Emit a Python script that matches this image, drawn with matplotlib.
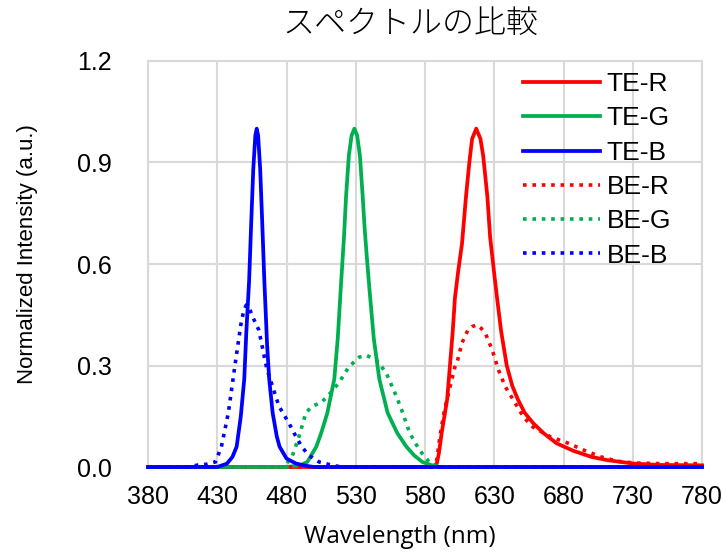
import matplotlib.pyplot as plt

# Spectra (wavelength nm, normalized intensity)
te_r_x = [380, 580, 586, 588.5, 590, 592, 594, 596, 598, 600, 601.6, 604, 606.7, 609.6, 612, 614, 617, 620, 622,
          625, 627, 630, 632, 635, 639, 643, 647, 652, 658, 665.6, 675, 687, 700, 712, 731, 750, 780]
te_r_y = [0, 0, 0.003, 0.01, 0.04, 0.1, 0.15, 0.2, 0.3, 0.4, 0.5, 0.58, 0.66, 0.8, 0.9, 0.97, 1.0, 0.97, 0.92,
          0.8, 0.68, 0.57, 0.5, 0.4, 0.3, 0.24, 0.2, 0.16, 0.13, 0.1, 0.07, 0.048, 0.03, 0.02, 0.01, 0.006, 0.005]

te_g_x = [380, 480, 490, 495, 501.5, 505, 509.5, 514.5, 517, 519.5, 521.5, 523, 525, 527, 529, 531, 533,
          535, 536.5, 538, 540, 543, 547, 553, 560, 566.6, 572, 578, 585, 590, 780]
te_g_y = [0, 0, 0.005, 0.015, 0.06, 0.1, 0.16, 0.26, 0.38, 0.55, 0.68, 0.8, 0.92, 0.98, 1.0, 0.98, 0.92,
          0.8, 0.7, 0.62, 0.52, 0.38, 0.26, 0.16, 0.1, 0.06, 0.035, 0.015, 0.005, 0, 0]

te_b_x = [380, 430, 437, 441, 444, 447, 449.5, 451, 453, 454.5, 456, 457.5, 458.5, 459.5, 461, 462.5, 464, 466,
          467.5, 470, 473, 475, 480, 487, 495, 500, 780]
te_b_y = [0, 0, 0.01, 0.03, 0.06, 0.15, 0.26, 0.4, 0.55, 0.72, 0.88, 0.98, 1.0, 0.98, 0.88, 0.72, 0.55, 0.36,
          0.26, 0.16, 0.09, 0.06, 0.025, 0.01, 0.003, 0, 0]

be_r_x = [380, 585, 588.5, 590.7, 594, 598, 601.6, 603, 606.7, 611, 614, 617.6, 620.5, 623.5, 628.5, 633,
          638, 643.8, 651, 658, 670.7, 683, 694.6, 707, 719, 731, 750, 780]
be_r_y = [0, 0, 0.02, 0.089, 0.168, 0.236, 0.296, 0.307, 0.367, 0.405, 0.415, 0.42, 0.41, 0.396, 0.346, 0.287,
          0.237, 0.198, 0.148, 0.118, 0.089, 0.071, 0.05, 0.03, 0.017, 0.012, 0.01, 0.01]

be_g_x = [380, 478, 484, 489, 494, 498.5, 505, 512, 518, 525, 532.6, 537.7, 545, 552, 559.5, 563, 569,
          576, 583.5, 590, 780]
be_g_y = [0, 0, 0.03, 0.09, 0.16, 0.18, 0.19, 0.22, 0.25, 0.296, 0.325, 0.33, 0.316, 0.278, 0.207, 0.17, 0.1,
          0.05, 0.012, 0, 0]

be_b_x = [380, 410, 416, 422, 428.7, 433, 438, 443, 447, 449, 451, 453, 456, 460, 465.8, 469, 474.5,
          481.7, 486.8, 491, 496, 503.5, 513, 520, 780]
be_b_y = [0, 0, 0.006, 0.008, 0.015, 0.06, 0.16, 0.307, 0.42, 0.46, 0.479, 0.47, 0.44, 0.405, 0.29, 0.25, 0.18,
          0.13, 0.09, 0.06, 0.035, 0.015, 0.005, 0, 0]

x_ticks = [380, 430, 480, 530, 580, 630, 680, 730, 780]
y_ticks = [0.0, 0.3, 0.6, 0.9, 1.2]

red = "#FF0000"
green = "#00B050"
blue = "#0000FF"
dots = (0, (1, 1.6))

fig = plt.figure(figsize=(7.23, 5.53), dpi=100)
ax = fig.add_axes([0.2047, 0.1555, 0.7663, 0.7342])

ax.plot(te_r_x, te_r_y, color=red, lw=2.7, label="TE-R", zorder=3, clip_on=False)
ax.plot(te_g_x, te_g_y, color=green, lw=2.7, label="TE-G", zorder=3, clip_on=False)
ax.plot(be_r_x, be_r_y, color=red, lw=2.6, ls=dots, label="BE-R", zorder=4, clip_on=False)
ax.plot(be_g_x, be_g_y, color=green, lw=2.6, ls=dots, label="BE-G", zorder=4, clip_on=False)
ax.plot(be_b_x, be_b_y, color=blue, lw=2.6, ls=dots, label="BE-B", zorder=4, clip_on=False)
ax.plot(te_b_x, te_b_y, color=blue, lw=2.7, label="TE-B", zorder=5, clip_on=False)

ax.set_xlim(380, 780)
ax.set_ylim(0, 1.2)
ax.set_xticks(x_ticks)
ax.set_yticks(y_ticks)
ax.set_yticklabels([f"{v:.1f}" for v in y_ticks])
ax.tick_params(length=0, labelsize=18)
ax.tick_params(axis="y", pad=26)
ax.tick_params(axis="x", pad=13)
for lab in ax.get_xticklabels() + ax.get_yticklabels():
    lab.set_fontfamily("Liberation Sans")

ax.grid(True, color="#D9D9D9", lw=1.5)
ax.set_axisbelow(True)
for s in ax.spines.values():
    s.set_color("#D9D9D9")
    s.set_linewidth(1.5)

ax.set_ylabel("Normalized Intensity (a.u.)", fontsize=16, family="Liberation Sans")
ax.yaxis.set_label_coords(-0.199, 0.525)
ax.set_xlabel("Wavelength (nm)", fontsize=17.5, family="Open Sans")
ax.xaxis.set_label_coords(0.455, -0.143)

fig.text(0.567, 0.958, "スペクトルの比較", ha="center", va="center", fontsize=23, fontweight="light",
         family=["Noto Sans CJK JP", "DejaVu Sans"])

handles, labels = ax.get_legend_handles_labels()
order = ["TE-R", "TE-G", "TE-B", "BE-R", "BE-G", "BE-B"]
hmap = dict(zip(labels, handles))
ax.legend([hmap[k] for k in order], order, loc="upper left", bbox_to_anchor=(0.634, 1.031),
          frameon=False, prop={"family": "Liberation Sans", "size": 19},
          handlelength=2.9, handletextpad=0.27, labelspacing=0.39)

fig.savefig("out.png", dpi=100)
